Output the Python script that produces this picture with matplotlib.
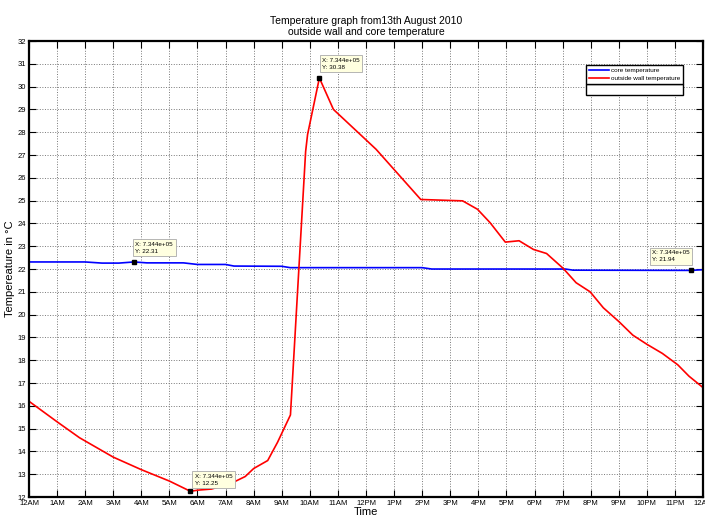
import matplotlib
matplotlib.use("Agg")
import matplotlib.pyplot as plt
from matplotlib.patches import Rectangle

plt.rcParams['font.family'] = ['Liberation Sans', 'DejaVu Sans']

# === data (hours since midnight) ===
wall_hours = [0, 1.0, 1.8, 3.0, 4.0, 5.0, 5.75, 6.0, 6.5, 7.2, 7.7, 8.0, 8.5, 8.85,
              9.31, 9.85, 9.92, 10.34, 10.84, 12.36, 13.95, 15.44, 15.97, 16.42,
              16.96, 17.45, 17.96, 18.43, 19.02, 19.48, 19.98, 20.45, 21.0, 21.5,
              22.0, 22.55, 23.1, 23.5, 24.0]
wall_temp = [16.2, 15.3, 14.6, 13.75, 13.2, 12.7, 12.25, 12.3, 12.35, 12.6, 12.9, 13.25,
             13.6, 14.4, 15.6, 27.15, 27.9, 30.38, 29.0, 27.25, 25.05, 24.99, 24.62,
             24.03, 23.18, 23.24, 22.86, 22.68, 22.03, 21.4, 21.0, 20.3, 19.7, 19.1,
             18.7, 18.3, 17.8, 17.3, 16.8]

core_hours = [0, 2.0, 2.6, 3.2, 3.74, 4.2, 5.5, 6.0, 7.0, 7.3, 9.0, 9.3, 14.0, 14.34,
              19.1, 19.37, 23.57, 24.0]
core_temp = [22.31, 22.31, 22.26, 22.26, 22.31, 22.27, 22.27, 22.2, 22.2, 22.13, 22.12,
             22.06, 22.06, 22.0, 22.0, 21.95, 21.94, 21.97]

tick_labels = ['12AM', '1AM', '2AM', '3AM', '4AM', '5AM', '6AM', '7AM', '8AM', '9AM',
               '10AM', '11AM', '12PM', '1PM', '2PM', '3PM', '4PM', '5PM', '6PM', '7PM',
               '8PM', '9PM', '10PM', '11PM', '12AM']

# data tips: (hour, value, text offset in points)
tips = [(10.34, 30.38, (2, 6)), (5.75, 12.25, (3, 4)), (3.74, 22.31, (1, 6)),
        (23.57, 21.94, (-28, 6))]

fig = plt.figure(figsize=(7.05, 5.18), dpi=100)
ax = fig.add_axes([0.0411, 0.0405, 0.9561, 0.8803])

ax.plot(core_hours, core_temp, color='blue', lw=1.2, label='core temperature')
ax.plot(wall_hours, wall_temp, color='red', lw=1.2, label='outside wall temperature')

ax.set_xlim(0, 24)
ax.set_ylim(12, 32)
ax.set_xticks(range(25))
ax.set_xticklabels(tick_labels, fontsize=5.5)
ax.set_yticks(range(12, 33))
ax.tick_params(axis='y', labelsize=5.5)
ax.tick_params(direction='in', top=True, right=True, length=5, width=0.8, pad=2)
ax.grid(True, linestyle=':', color='#777777', lw=0.7)
for s in ax.spines.values():
    s.set_linewidth(1.6)

ax.set_xlabel('Time', fontsize=8, labelpad=0)
ax.xaxis.set_label_coords(0.5, -0.022)
ax.set_ylabel('Tempereature in °C', fontsize=8, labelpad=2)
ax.set_title('Temperature graph from13th August 2010\noutside wall and core temperature',
             fontsize=7.5, pad=4)

for hx, val, off in tips:
    ax.plot(hx, val, 's', color='black', ms=3, zorder=5)
    ax.annotate(f'X: 7.344e+05\nY: {val:.2f}', xy=(hx, val), xytext=off,
                textcoords='offset points', fontsize=4.5, va='bottom', ha='left',
                linespacing=1.5,
                bbox=dict(boxstyle='square,pad=0.4', fc='#ffffe0', ec='#aaaaaa', lw=0.6),
                zorder=6)

leg = ax.legend(loc='upper right', bbox_to_anchor=(0.97, 0.947), fontsize=4.6,
                fancybox=False, edgecolor='black', framealpha=1,
                handlelength=3.2, handletextpad=0.3, labelspacing=0.4,
                borderpad=0.4, borderaxespad=0)
leg.get_frame().set_linewidth(1.0)
leg.set_zorder(7)

# empty strip under the legend, like the original
fig.canvas.draw()
bb = leg.get_window_extent().transformed(ax.transAxes.inverted())
ax.add_patch(Rectangle((bb.x0, bb.y0 - 0.024), bb.width, 0.024, transform=ax.transAxes,
                       fc='white', ec='black', lw=1.0, zorder=7))

fig.savefig('out.png', dpi=100)
